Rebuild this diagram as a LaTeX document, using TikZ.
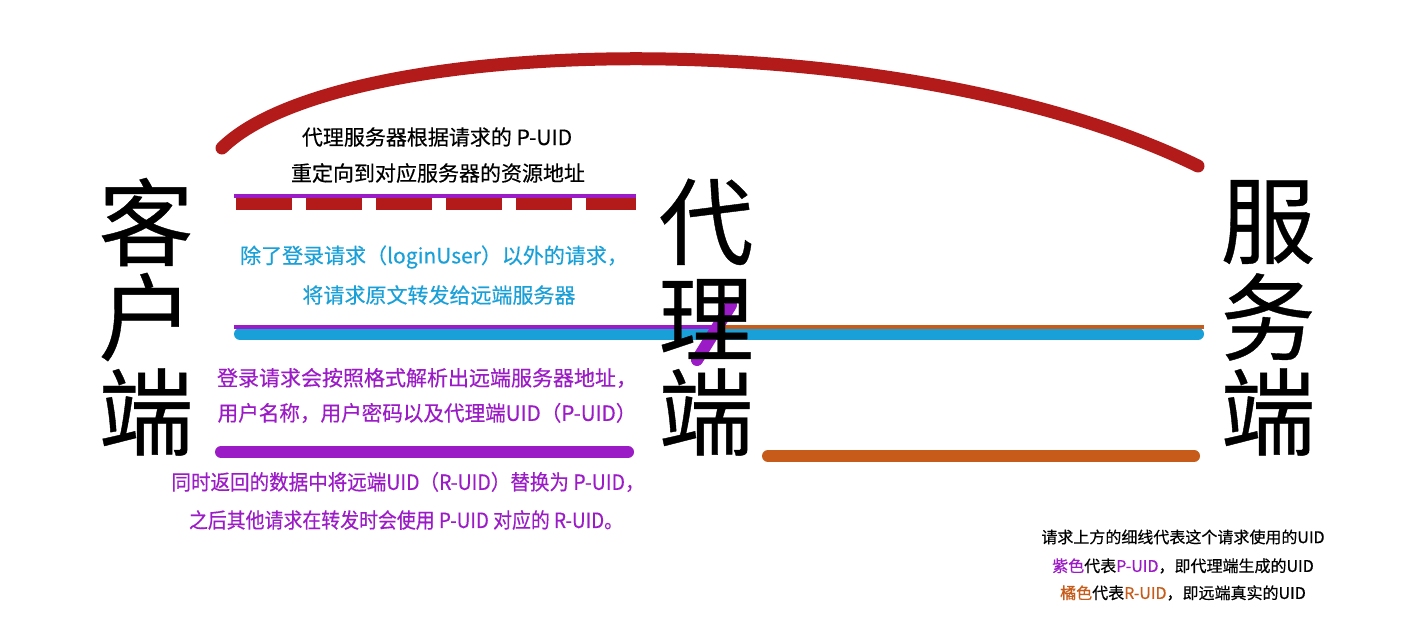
\documentclass[tikz,border=0pt]{standalone}
\usepackage{graphicx}
\usepackage{fontspec}
\setmainfont{Noto Sans CJK SC}
\newfontfamily\medfont{Noto Sans CJK SC}[FakeBold=0.4]
\definecolor{arcred}{HTML}{B31B1B}
\definecolor{ppl}{HTML}{9B1BC6}
\definecolor{blu}{HTML}{1AA0D8}
\definecolor{org}{HTML}{C75B1A}
\tikzset{
  thick line/.style={line width=12pt, line cap=round},
  thin line/.style={line width=4pt},
  big/.style={font=\medfont\fontsize{95}{95}\selectfont, inner sep=0pt},
  label/.style={font=\medfont\fontsize{21}{21}\selectfont, inner sep=0pt},
  legend/.style={font=\medfont\fontsize{16}{16}\selectfont, inner sep=0pt},
}
\begin{document}
\begin{tikzpicture}[x=1pt,y=-1pt]
\useasboundingbox (0,0) rectangle (1411,632);
% coordinates
\coordinate (arcA) at (222,148);
\coordinate (arcB) at (1198,166);
\coordinate (dA) at (236,204);
\coordinate (dB) at (636,204);
\coordinate (p1A) at (234,196);
\coordinate (p1B) at (636,196);
\coordinate (p2A) at (234,327);
\coordinate (p2B) at (722,327);
\coordinate (o2B) at (1204,327);
\coordinate (bA) at (240,334);
\coordinate (bB) at (1198,334);
\coordinate (sA) at (731,305);
\coordinate (sB) at (697,360);
\coordinate (p3A) at (221,452);
\coordinate (p3B) at (628,452);
\coordinate (o3A) at (768,456);
\coordinate (o3B) at (1194,456);
% top arc
\draw[arcred, line width=13pt, line cap=round] (arcA) .. controls (340,32) and (900,20) .. (arcB);
% dashed red
\draw[arcred, line width=12pt, dash pattern=on 56pt off 14pt] (dA) -- (dB);
\draw[ppl, thin line] (p1A) -- (p1B);
% middle lines
\draw[blu, thick line] (bA) -- (bB);
\draw[ppl, thin line] (p2A) -- (p2B);
\draw[org, thin line] (p2B) -- (o2B);
\draw[ppl, thick line] (sA) -- (sB);
% bottom lines
\draw[ppl, thick line] (p3A) -- (p3B);
\draw[org, thick line] (o3A) -- (o3B);
% big labels
\node[big] (c1) at (146,222) {客};
\node[big] (c2) at (146,317) {户};
\node[big] (c3) at (146,412) {端};
\node[big] (d1) at (706,222) {代};
\node[big] (d2) at (706,319) {理};
\node[big] (d3) at (706,412) {端};
\node[big] (s1) at (1268,222) {服};
\node[big] (s2) at (1268,317) {务};
\node[big] (s3) at (1268,412) {端};
% texts
\node[label] (t1) at (437,137) {代理服务器根据请求的 P-UID};
\node[label] (t2) at (438,173) {重定向到对应服务器的资源地址};
\node[label, text=blu] (t3) at (434,257) {除了登录请求（loginUser）以外的请求，};
\node[label, text=blu] (t4) at (439,295) {将请求原文转发给远端服务器};
\node[label, text=ppl] (t5) at (427,378) {登录请求会按照格式解析出远端服务器地址，};
\node[label, text=ppl] (t6) at (427,413) {\scalebox{0.98}[1]{用户名称，用户密码以及代理端UID（P-UID）}};
\node[label, text=ppl] (t7) at (408,482) {\scalebox{0.93}[1]{同时返回的数据中将远端UID（R-UID）替换为 P-UID，}};
\node[label, text=ppl] (t8) at (406,520) {\scalebox{0.9}[1]{之后其他请求在转发时会使用 P-UID 对应的 R-UID。}};
% legend
\node[legend] (l1) at (1183,537) {请求上方的细线代表这个请求使用的UID};
\node[legend] (l2) at (1183,566) {\textcolor{ppl}{紫色}代表\textcolor{ppl}{P-UID}，即代理端生成的UID};
\node[legend] (l3) at (1183,593) {\textcolor{org}{橘色}代表\textcolor{org}{R-UID}，即远端真实的UID};
\end{tikzpicture}
\end{document}
